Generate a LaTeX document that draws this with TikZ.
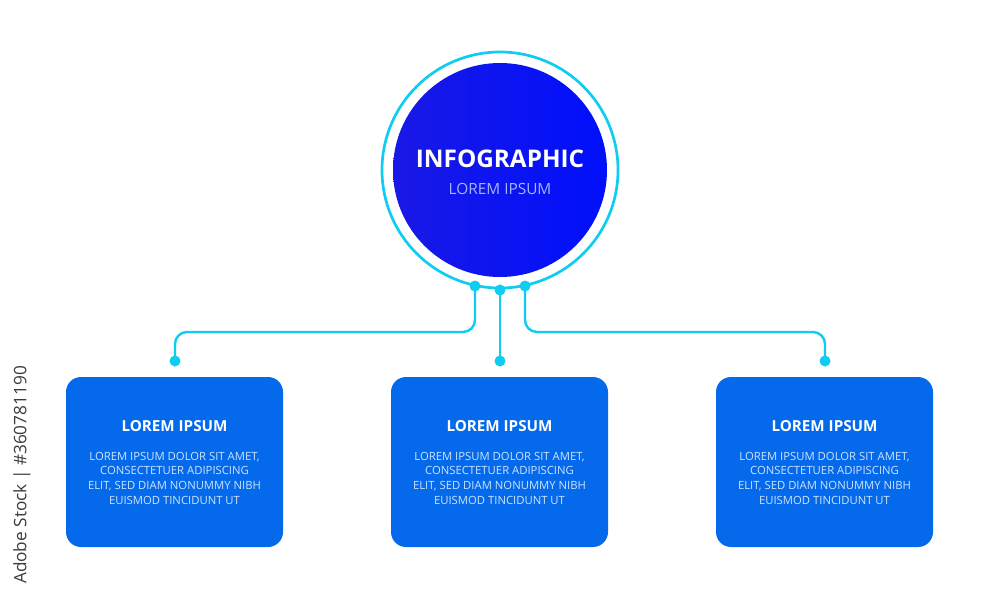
\documentclass[tikz,border=0pt]{standalone}
\usepackage{fontspec}
\setmainfont{Open Sans}
\newfontfamily\stockfont{Open Sans}
\definecolor{ringc}{RGB}{15,205,240}
\definecolor{boxblue}{RGB}{5,105,235}
\definecolor{bodytxt}{RGB}{205,228,255}
\definecolor{subtxt}{RGB}{165,180,255}
\definecolor{coreL}{RGB}{25,25,230}
\definecolor{coreR}{RGB}{0,15,252}
\definecolor{stockgray}{RGB}{60,60,60}
\tikzset{
  dotn/.style={circle, fill=ringc, inner sep=0pt, minimum size=11pt},
  conn/.style={draw=ringc, line width=2.4pt, rounded corners=12pt},
  infobox/.style={fill=boxblue, rounded corners=15pt, minimum width=217pt, minimum height=170pt, inner sep=0pt},
  boxtitle/.style={text=white, font=\fontsize{15.2}{18}\selectfont\bfseries},
  boxbody/.style={text=bodytxt, align=center, font=\fontsize{11.3}{14.7}\selectfont},
}
\begin{document}
\begin{tikzpicture}[x=1pt,y=-1pt]
\useasboundingbox (0,0) rectangle (1000,600);
\fill[white] (0,0) rectangle (1000,600);
% central circle
\node[circle, draw=ringc, line width=2.7pt, minimum size=236pt, inner sep=0pt] (ring) at (500,170) {};
\node[circle, left color=coreL, right color=coreR, minimum size=214pt, inner sep=0pt] (core) at (500,170) {};
\node[text=white, font=\fontsize{24.3}{28}\selectfont\bfseries] (title) at (500,159) {INFOGRAPHIC};
\node[text=subtxt, font=\fontsize{15.4}{18}\selectfont] (sub) at (500,189) {LOREM IPSUM};
% dots on ring
\node[dotn] (d1) at (475,286) {};
\node[dotn] (d2) at (500,290) {};
\node[dotn] (d3) at (525,286) {};
% dots above boxes
\node[dotn] (e1) at (175,361) {};
\node[dotn] (e2) at (500,361) {};
\node[dotn] (e3) at (825,361) {};
% connectors
\draw[conn] (d1.center) -- (d1.center |- 0,332) -- (e1.center |- 0,332) -- (e1.center);
\draw[conn] (d2.center) -- (e2.center);
\draw[conn] (d3.center) -- (d3.center |- 0,332) -- (e3.center |- 0,332) -- (e3.center);
% boxes
\foreach \i/\x in {1/174.5, 2/499.5, 3/824.5}{
  \node[infobox] (b\i) at (\x,462) {};
  \node[boxtitle] (t\i) at (\x,426) {LOREM IPSUM};
  \node[boxbody] (p\i) at (\x,478) {LOREM IPSUM DOLOR SIT AMET,\\CONSECTETUER ADIPISCING\\ELIT, SED DIAM NONUMMY NIBH\\EUISMOD TINCIDUNT UT};
}
% side credit
\node[rotate=90, text=stockgray, font=\stockfont\fontsize{17.2}{20}\selectfont] (credit) at (22,475) {Adobe Stock | \#360781190};
\end{tikzpicture}
\end{document}
